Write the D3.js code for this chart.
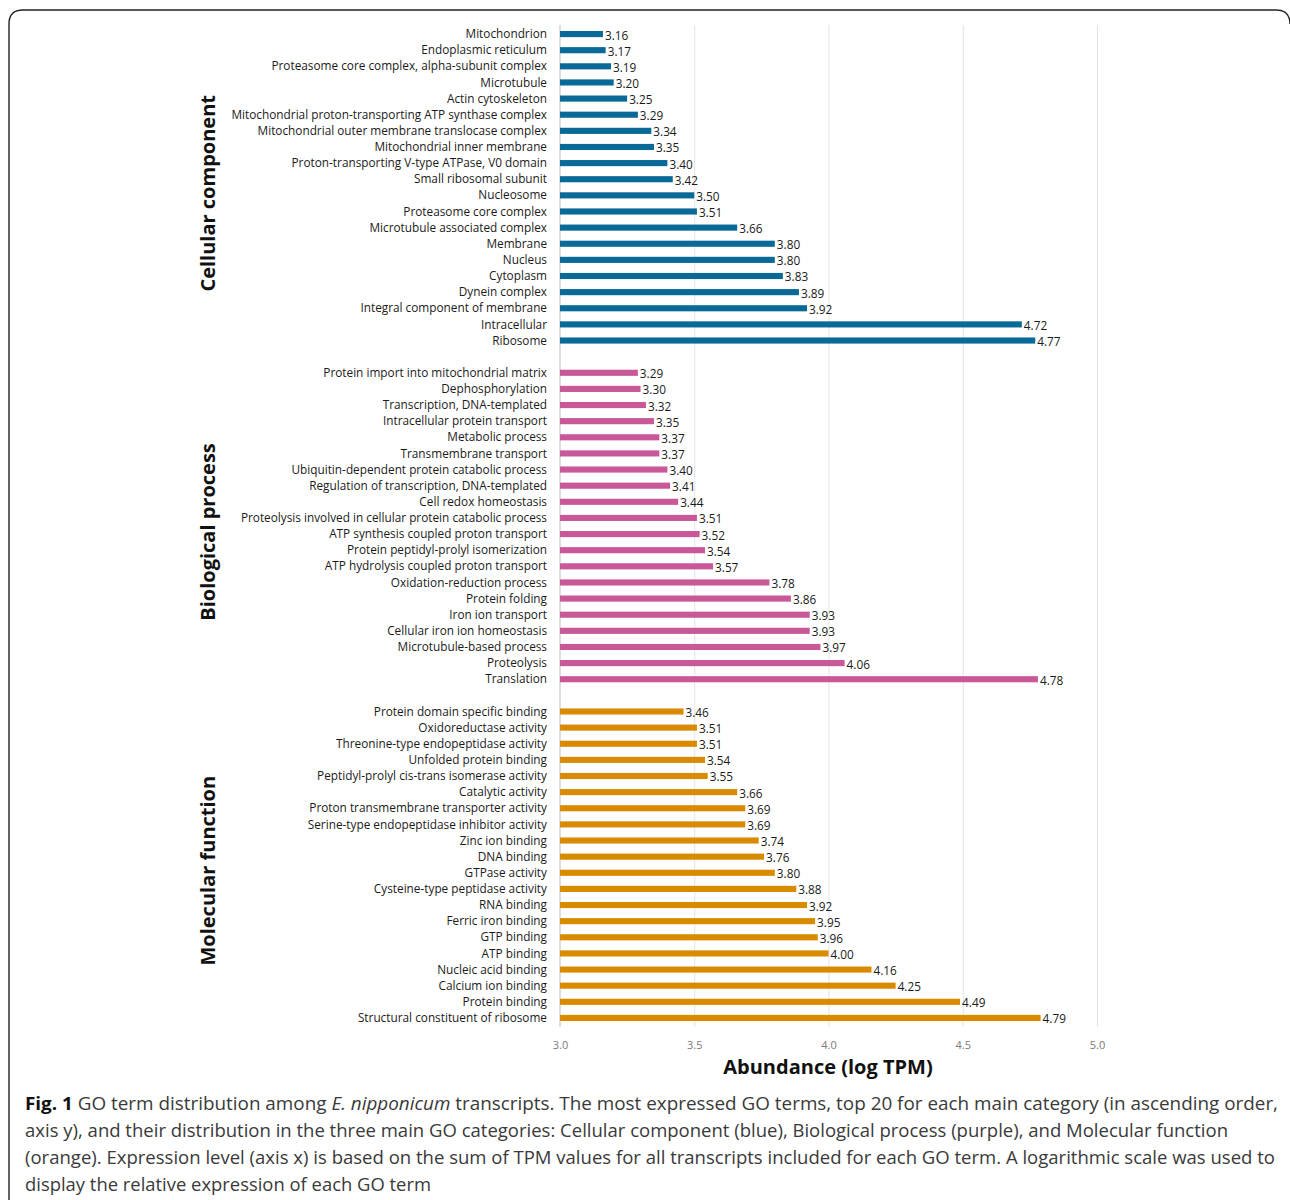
<!doctype html>
<html>
<head>
<meta charset="utf-8">
<style>
    body { margin: 0; background: #fff; }
    svg { display: block; }
    text { font-family: 'Open Sans', sans-serif; }
    .term { font-size: 11.8px; fill: #1a1a1a; }
    .value { font-size: 11.8px; fill: #1a1a1a; }
    .group { font-size: 20px; font-weight: 700; fill: #111; }
    .grid line { stroke: #e3e3e3; }
    .grid path { stroke-width: 0; }
    .xaxis text { font-size: 11px; fill: #7a7a7a; }
    .xaxis path, .xaxis line { stroke: none; }
    .xtitle { font-size: 20px; font-weight: 700; fill: #111; }
    .caption { font-size: 18px; fill: #3a3a3a; font-family: 'Liberation Sans Narrow', 'Open Sans', sans-serif; }
</style>
<script src="https://d3js.org/d3.v7.min.js"></script>
</head>
<body>
<svg width="1290" height="1200"></svg>
<script>
const ccTerms = ['Mitochondrion', 'Endoplasmic reticulum', 'Proteasome core complex, alpha-subunit complex', 'Microtubule',
    'Actin cytoskeleton', 'Mitochondrial proton-transporting ATP synthase complex', 'Mitochondrial outer membrane translocase complex',
    'Mitochondrial inner membrane', 'Proton-transporting V-type ATPase, V0 domain', 'Small ribosomal subunit', 'Nucleosome',
    'Proteasome core complex', 'Microtubule associated complex', 'Membrane', 'Nucleus', 'Cytoplasm', 'Dynein complex',
    'Integral component of membrane', 'Intracellular', 'Ribosome']
const ccValues = [3.16, 3.17, 3.19, 3.20, 3.25, 3.29, 3.34, 3.35, 3.40, 3.42, 3.50, 3.51, 3.66, 3.80, 3.80, 3.83, 3.89, 3.92, 4.72, 4.77]

const bpTerms = ['Protein import into mitochondrial matrix', 'Dephosphorylation', 'Transcription, DNA-templated',
    'Intracellular protein transport', 'Metabolic process', 'Transmembrane transport', 'Ubiquitin-dependent protein catabolic process',
    'Regulation of transcription, DNA-templated', 'Cell redox homeostasis', 'Proteolysis involved in cellular protein catabolic process',
    'ATP synthesis coupled proton transport', 'Protein peptidyl-prolyl isomerization', 'ATP hydrolysis coupled proton transport',
    'Oxidation-reduction process', 'Protein folding', 'Iron ion transport', 'Cellular iron ion homeostasis',
    'Microtubule-based process', 'Proteolysis', 'Translation']
const bpValues = [3.29, 3.30, 3.32, 3.35, 3.37, 3.37, 3.40, 3.41, 3.44, 3.51, 3.52, 3.54, 3.57, 3.78, 3.86, 3.93, 3.93, 3.97, 4.06, 4.78]

const mfTerms = ['Protein domain specific binding', 'Oxidoreductase activity', 'Threonine-type endopeptidase activity',
    'Unfolded protein binding', 'Peptidyl-prolyl cis-trans isomerase activity', 'Catalytic activity',
    'Proton transmembrane transporter activity', 'Serine-type endopeptidase inhibitor activity', 'Zinc ion binding',
    'DNA binding', 'GTPase activity', 'Cysteine-type peptidase activity', 'RNA binding', 'Ferric iron binding',
    'GTP binding', 'ATP binding', 'Nucleic acid binding', 'Calcium ion binding', 'Protein binding',
    'Structural constituent of ribosome']
const mfValues = [3.46, 3.51, 3.51, 3.54, 3.55, 3.66, 3.69, 3.69, 3.74, 3.76, 3.80, 3.88, 3.92, 3.95, 3.96, 4.00, 4.16, 4.25, 4.49, 4.79]

const groupNames = ['Cellular component', 'Biological process', 'Molecular function']
const groupColors = ['#0a6a97', '#c85898', '#d98b00']
const xTicks = [3.0, 3.5, 4.0, 4.5, 5.0]

const groups = [
    { name: groupNames[0], color: groupColors[0], terms: ccTerms, values: ccValues },
    { name: groupNames[1], color: groupColors[1], terms: bpTerms, values: bpValues },
    { name: groupNames[2], color: groupColors[2], terms: mfTerms, values: mfValues }
]

// flatten to rows, with one empty row between groups
const rows = []
groups.forEach((g, gi) => {
    if (gi > 0) rows.push({ key: 'gap' + gi, gap: true })
    g.terms.forEach((t, i) => rows.push({ key: gi + '-' + i, term: t, value: g.values[i], color: g.color, group: gi }))
})

const svg = d3.select('svg')

// frame
svg.append('path')
    .attr('d', 'M 9 1210 L 9 24 Q 9 10 23 10 L 1276 10 Q 1290 10 1290 24')
    .attr('fill', 'none')
    .attr('stroke', '#222')
    .attr('stroke-width', 1.4)

const x = d3.scaleLinear().domain([3.0, 5.0]).range([560, 1097])
const y = d3.scaleBand().domain(rows.map(r => r.key)).range([26, 1026]).paddingInner(0.62).paddingOuter(0.31)

// gridlines
svg.append('g')
    .attr('class', 'grid')
    .attr('transform', 'translate(0, 1027)')
    .call(d3.axisBottom(x).tickValues(xTicks.slice(1)).tickSize(-1002).tickFormat(''))

// axis line at 3.0
svg.append('line')
    .attr('x1', x(3.0)).attr('x2', x(3.0))
    .attr('y1', 25).attr('y2', 1027)
    .attr('stroke', '#bdbdbd')

svg.append('g')
    .attr('class', 'xaxis')
    .attr('transform', 'translate(0, 1038)')
    .call(d3.axisBottom(x).tickValues(xTicks).tickSize(0).tickFormat(d3.format('.1f')))

const dataRows = rows.filter(r => !r.gap)

svg.append('g').selectAll('rect')
    .data(dataRows)
    .enter()
    .append('rect')
    .attr('x', x(3.0))
    .attr('y', r => y(r.key))
    .attr('width', r => x(r.value) - x(3.0))
    .attr('height', y.bandwidth())
    .attr('fill', r => r.color)

svg.append('g').selectAll('text')
    .data(dataRows)
    .enter()
    .append('text')
    .attr('class', 'term')
    .attr('x', 547)
    .attr('y', r => y(r.key) + y.bandwidth() / 2)
    .attr('dy', '0.35em')
    .attr('text-anchor', 'end')
    .text(r => r.term)

svg.append('g').selectAll('text')
    .data(dataRows)
    .enter()
    .append('text')
    .attr('class', 'value')
    .attr('x', r => x(r.value) + 2)
    .attr('y', r => y(r.key) + y.bandwidth() / 2 + 1)
    .attr('dy', '0.38em')
    .text(r => r.value.toFixed(2))

// group titles, rotated
groups.forEach((g, gi) => {
    const first = y(gi + '-0')
    const last = y(gi + '-' + (g.terms.length - 1)) + y.bandwidth()
    const cy = (first + last) / 2 + 6
    svg.append('text')
        .attr('class', 'group')
        .attr('transform', `translate(215, ${cy}) rotate(-90)`)
        .attr('text-anchor', 'middle')
        .text(g.name)
})

svg.append('text')
    .attr('class', 'xtitle')
    .attr('x', 828)
    .attr('y', 1074)
    .attr('text-anchor', 'middle')
    .text('Abundance (log TPM)')

// caption
const capLines = [
    [['Fig. 1', 'b'], [' GO term distribution among ', ''], ['E. nipponicum', 'i'], [' transcripts. The most expressed GO terms, top 20 for each main category (in ascending order,', '']],
    [['axis y), and their distribution in the three main GO categories: Cellular component (blue), Biological process (purple), and Molecular function', '']],
    [['(orange). Expression level (axis x) is based on the sum of TPM values for all transcripts included for each GO term. A logarithmic scale was used to', '']],
    [['display the relative expression of each GO term', '']]
]
const capWidths = [1253, 1203, 1250, 406]
capLines.forEach((line, li) => {
    const t = svg.append('text')
        .attr('class', 'caption')
        .attr('x', 25)
        .attr('y', 1110 + li * 27)
        .attr('textLength', capWidths[li])
        .attr('lengthAdjust', 'spacingAndGlyphs')
    line.forEach(([s, st]) => {
        t.append('tspan')
            .attr('font-weight', st === 'b' ? 700 : null)
            .attr('font-style', st === 'i' ? 'italic' : null)
            .attr('fill', st === 'b' ? '#111' : null)
            .text(s)
    })
})
</script>
</body>
</html>
